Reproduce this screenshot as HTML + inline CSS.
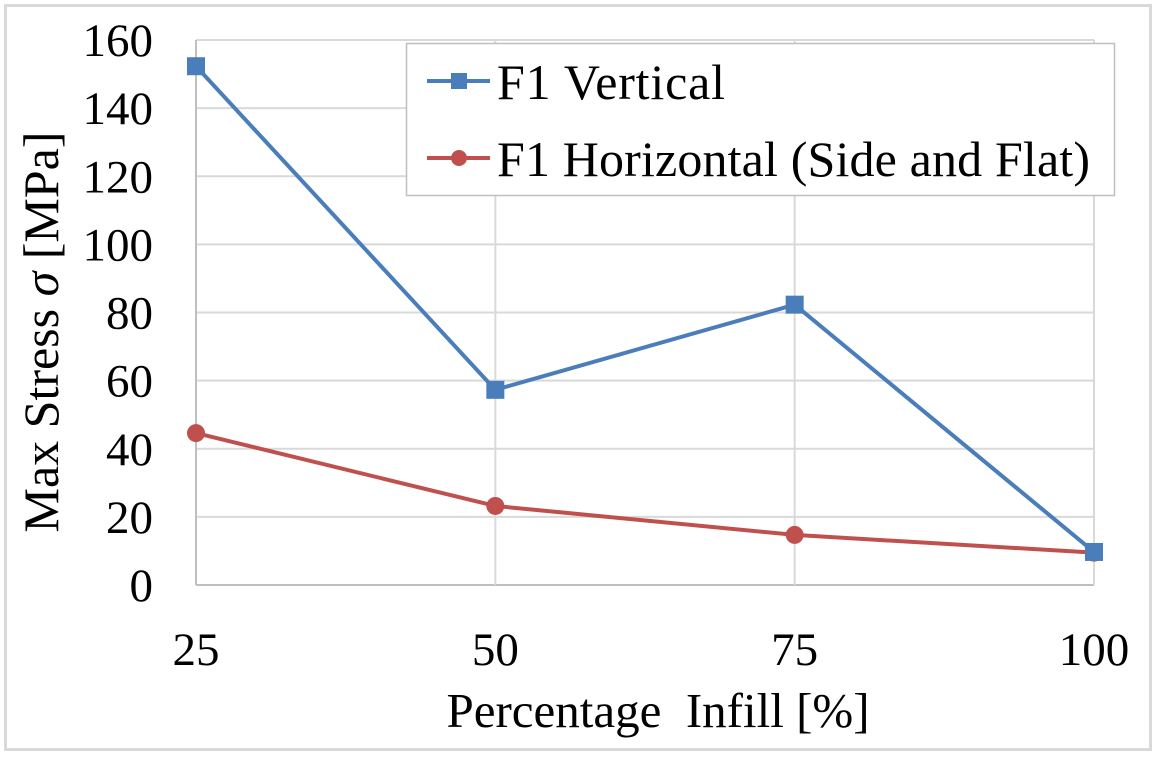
<!DOCTYPE html>
<html><head><meta charset="utf-8"><style>
body{margin:0;background:#fff}
svg text{font-family:"Liberation Serif",serif;fill:#000}
</style></head><body>
<svg id="chart" width="1157" height="756" xmlns="http://www.w3.org/2000/svg">
<rect x="5.5" y="5.5" width="1145" height="744" fill="#fff" stroke="#d9d9d9" stroke-width="3"/>
<g id="grid"></g>
<g id="yticks"></g>
<g id="xticks"></g>
<g id="series"></g>
<text x="658" y="727" font-size="49" text-anchor="middle" xml:space="preserve">Percentage  Infill [%]</text>
<text transform="translate(58,332) rotate(-90)" font-size="50" text-anchor="middle">Max Stress <tspan font-style="italic">σ</tspan> [MPa]</text>
<g>
<rect x="406.5" y="43.5" width="708" height="152" fill="#fff" stroke="#bfbfbf" stroke-width="1.5"/>
<g>
<line x1="427" y1="81" x2="490" y2="81" stroke="#4a7ebb" stroke-width="4"/>
<rect x="451" y="73" width="16" height="16" fill="#4a7ebb"/>
<text x="497" y="99" font-size="50" textLength="228">F1 Vertical</text></g>
<g>
<line x1="427" y1="158" x2="490" y2="158" stroke="#c0504d" stroke-width="4"/>
<circle cx="459" cy="158" r="8" fill="#c0504d"/>
<text x="497" y="176" font-size="50" textLength="593">F1 Horizontal (Side and Flat)</text></g>
</g>
</svg>
<script>
const categories=["25","50","75","100"];
const verticalValues=[152.3,57.3,82.3,9.7];
const horizontalValues=[44.6,23.2,14.7,9.5];
const yTicks=[0,20,40,60,80,100,120,140,160];
const NS="http://www.w3.org/2000/svg";
const L=196,R=1094,T=40,B=585,YMAX=160;
const xs=i=>L+(R-L)*i/(categories.length-1);
const ys=v=>B-(B-T)*v/YMAX;
function mk(tag,attrs,parent){const e=document.createElementNS(NS,tag);for(const k in attrs)e.setAttribute(k,attrs[k]);parent.appendChild(e);return e;}
const grid=document.getElementById('grid'),yt=document.getElementById('yticks'),xt=document.getElementById('xticks'),ser=document.getElementById('series');
yTicks.forEach(v=>{
 const l=mk('line',{x1:L,x2:R,y1:ys(v),y2:ys(v),stroke:v===0?'#bfbfbf':'#d9d9d9','stroke-width':2},grid);
 
 
 const t=mk('text',{x:153,y:ys(v)+16,'font-size':47,'text-anchor':'end'},yt);t.textContent=v;
 
 
});
categories.forEach((c,i)=>{
 const l=mk('line',{x1:xs(i),x2:xs(i),y1:T,y2:B,stroke:i===0?'#bfbfbf':'#d9d9d9','stroke-width':2},grid);
 
 
 const t=mk('text',{x:xs(i),y:665,'font-size':47,'text-anchor':'middle'},xt);t.textContent=c;
 
 
});
function draw(vals,color,marker,name){
 const p=mk('polyline',{points:vals.map((v,i)=>xs(i)+','+ys(v)).join(' '),fill:'none',stroke:color,'stroke-width':4,'stroke-linejoin':'round'},ser);
 
 
 vals.forEach((v,i)=>{
  let m;
  if(marker==='square')m=mk('rect',{x:xs(i)-9,y:ys(v)-9,width:18,height:18,fill:color},ser);
  else m=mk('circle',{cx:xs(i),cy:ys(v),r:9,fill:color},ser);
  
  
 });
}
draw(horizontalValues,'#c0504d','circle','horizontal');
draw(verticalValues,'#4a7ebb','square','vertical');
</script>
</body></html>
